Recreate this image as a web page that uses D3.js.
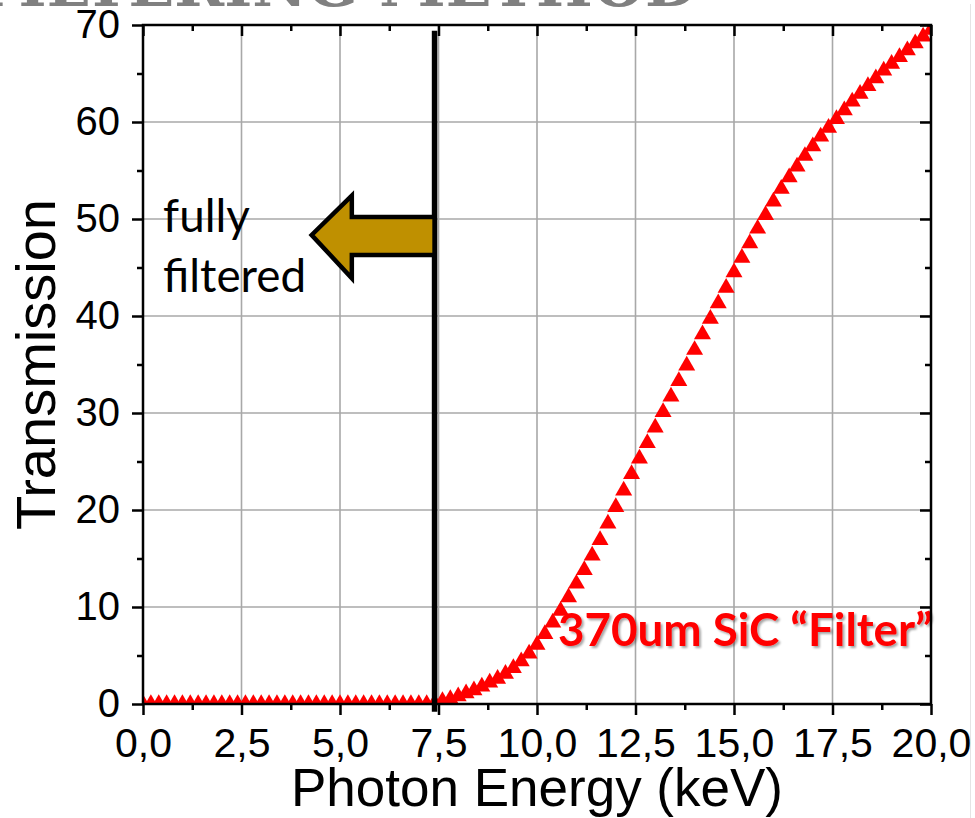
<!DOCTYPE html>
<html>
<head>
<meta charset="utf-8">
<script src="https://cdn.jsdelivr.net/npm/d3@7"></script>
<style>
  body { margin: 0; background: #fff; }
  svg { display: block; }
</style>
</head>
<body>
<svg></svg>
<script>
const WIDTH = 975;
const HEIGHT = 818;

// photon energy (keV) and transmission (%)
const energy = [
  0.0, 0.2, 0.4, 0.6, 0.8, 1.0, 1.2, 1.4, 1.6, 1.8,
  2.0, 2.2, 2.4, 2.6, 2.8, 3.0, 3.2, 3.4, 3.6, 3.8,
  4.0, 4.2, 4.4, 4.6, 4.8, 5.0, 5.2, 5.4, 5.6, 5.8,
  6.0, 6.2, 6.4, 6.6, 6.8, 7.0, 7.2, 7.4, 7.6, 7.8,
  8.0, 8.2, 8.4, 8.6, 8.8, 9.0, 9.2, 9.4, 9.6, 9.8,
  10.0, 10.2, 10.4, 10.6, 10.8, 11.0, 11.2, 11.4, 11.6, 11.8,
  12.0, 12.2, 12.4, 12.6, 12.8, 13.0, 13.2, 13.4, 13.6, 13.8,
  14.0, 14.2, 14.4, 14.6, 14.8, 15.0, 15.2, 15.4, 15.6, 15.8,
  16.0, 16.2, 16.4, 16.6, 16.8, 17.0, 17.2, 17.4, 17.6, 17.8,
  18.0, 18.2, 18.4, 18.6, 18.8, 19.0, 19.2, 19.4, 19.6, 19.8,
  20.0
];
const transmission = [
  0, 0, 0, 0, 0, 0, 0, 0, 0, 0,
  0, 0, 0, 0, 0, 0, 0, 0, 0, 0,
  0, 0, 0, 0, 0, 0, 0, 0, 0, 0,
  0, 0, 0, 0, 0, 0, 0, 0.1, 0.3, 0.5,
  0.8, 1.1, 1.4, 1.8, 2.2, 2.6, 3.1, 3.7, 4.4, 5.2,
  6.1, 7.2, 8.4, 9.6, 11.0, 12.4, 13.8, 15.3, 16.9, 18.6,
  20.3, 22.0, 23.7, 25.3, 26.9, 28.5, 30.1, 31.7, 33.3, 34.9,
  36.5, 38.1, 39.7, 41.3, 42.9, 44.5, 46.0, 47.5, 49.0, 50.4,
  51.8, 53.1, 54.3, 55.4, 56.5, 57.5, 58.5, 59.4, 60.3, 61.2,
  62.1, 62.9, 63.7, 64.5, 65.3, 66.0, 66.7, 67.4, 68.1, 68.8,
  69.5
];

const xTicks = [0, 2.5, 5, 7.5, 10, 12.5, 15, 17.5, 20];
const xMinorTicks = [1.25, 3.75, 6.25, 8.75, 11.25, 13.75, 16.25, 18.75];
const yTicks = [0, 10, 20, 30, 40, 50, 60, 70];
const yMinorTicks = [5, 15, 25, 35, 45, 55, 65];

const CUTOFF_ENERGY = 7.4;
const TITLE = "FILTERING METHOD";
const X_LABEL = "Photon Energy (keV)";
const Y_LABEL = "Transmission";
const SERIES_LABEL = "370um SiC \u201cFilter\u201d";
const NOTE_LINES = ["fully", "filtered"];

const AXIS_FONT = "'Liberation Sans', Arial, sans-serif";
const NOTE_FONT = "Lato, 'Open Sans', sans-serif";

const commaFormat = d3.formatLocale({
  decimal: ",", thousands: ".", grouping: [3], currency: ["", ""]
}).format(".1f");

let x, y;

function setUpScales() {
  x = d3.scaleLinear().domain([0, 20]).range([143, 931]);
  y = d3.scaleLinear().domain([0, 70]).range([704, 25]);
}

// scale a text's font size so the string covers a given width
function fitText(sel, target) {
  const len = sel.node().getComputedTextLength();
  const size = parseFloat(sel.attr("font-size"));
  const fitted = (size * target) / len;
  sel.attr("font-size", fitted);
  return fitted;
}

function drawGrid($svg) {
  const g = $svg.append("g").attr("stroke", "#a8a8a8").attr("stroke-width", 1.6);

  g.selectAll("line.v")
    .data(xTicks.slice(1, -1))
    .join("line")
    .attr("class", "v")
    .attr("x1", d => x(d)).attr("x2", d => x(d))
    .attr("y1", y(0)).attr("y2", y(70));

  g.selectAll("line.h")
    .data(yTicks.slice(1, -1))
    .join("line")
    .attr("class", "h")
    .attr("x1", x(0)).attr("x2", x(20))
    .attr("y1", d => y(d)).attr("y2", d => y(d));
}

function styleAxis(g) {
  g.select(".domain").remove();
  g.selectAll(".tick line").attr("stroke", "#000").attr("stroke-width", 2.5);
  g.selectAll(".tick text")
    .attr("fill", "#000")
    .attr("font-family", AXIS_FONT);
}

function setUpAxes($svg) {
  $svg.append("g")
    .attr("transform", `translate(0,${y(0)})`)
    .call(d3.axisBottom(x).tickValues(xTicks).tickFormat(commaFormat).tickSize(11).tickPadding(13))
    .call(styleAxis)
    .selectAll("text").attr("font-size", 41);

  $svg.append("g")
    .attr("transform", `translate(0,${y(0)})`)
    .call(d3.axisBottom(x).tickValues(xMinorTicks).tickFormat("").tickSize(6))
    .call(styleAxis);

  $svg.append("g")
    .attr("transform", `translate(${x(0)},0)`)
    .call(d3.axisLeft(y).tickValues(yTicks).tickFormat(d3.format("d")).tickSize(11).tickPadding(12))
    .call(styleAxis)
    .selectAll("text").attr("font-size", 40);

  $svg.append("g")
    .attr("transform", `translate(${x(0)},0)`)
    .call(d3.axisLeft(y).tickValues(yMinorTicks).tickFormat("").tickSize(6))
    .call(styleAxis);

  // mirrored ticks on top and right point inward
  $svg.append("g")
    .attr("transform", `translate(0,${y(70)})`)
    .call(d3.axisTop(x).tickValues(xTicks).tickFormat("").tickSize(-11))
    .call(styleAxis);
  $svg.append("g")
    .attr("transform", `translate(0,${y(70)})`)
    .call(d3.axisTop(x).tickValues(xMinorTicks).tickFormat("").tickSize(-6))
    .call(styleAxis);
  $svg.append("g")
    .attr("transform", `translate(${x(20)},0)`)
    .call(d3.axisRight(y).tickValues(yTicks).tickFormat("").tickSize(-11))
    .call(styleAxis);
  $svg.append("g")
    .attr("transform", `translate(${x(20)},0)`)
    .call(d3.axisRight(y).tickValues(yMinorTicks).tickFormat("").tickSize(-6))
    .call(styleAxis);

  $svg.append("rect")
    .attr("x", x(0)).attr("y", y(70))
    .attr("width", x(20) - x(0)).attr("height", y(0) - y(70))
    .attr("fill", "none").attr("stroke", "#000").attr("stroke-width", 2.5);

  $svg.append("text")
    .attr("x", x(10)).attr("y", 806)
    .attr("text-anchor", "middle")
    .attr("font-family", AXIS_FONT).attr("font-size", 53)
    .text(X_LABEL);

  $svg.append("text")
    .attr("transform", `translate(55,${y(35)}) rotate(-90)`)
    .attr("text-anchor", "middle")
    .attr("font-family", AXIS_FONT).attr("font-size", 56)
    .text(Y_LABEL);
}

function drawMarkers($svg, defs) {
  // symbols are clipped to the frame, as in the original plot
  defs.append("clipPath").attr("id", "plot-clip")
    .append("rect")
    .attr("x", x(0)).attr("y", y(70))
    .attr("width", x(20) - x(0)).attr("height", y(0) - y(70));

  const tri = d3.symbol(d3.symbolTriangle, 125);
  $svg.append("g")
    .attr("clip-path", "url(#plot-clip)")
    .selectAll("path")
    .data(energy.map((e, i) => [e, transmission[i]]))
    .join("path")
    .attr("transform", d => `translate(${x(d[0])},${y(d[1])})`)
    .attr("d", tri)
    .attr("fill", "#ff0000");
}

function drawAnnotations($svg, defs) {
  $svg.append("line")
    .attr("x1", x(CUTOFF_ENERGY)).attr("x2", x(CUTOFF_ENERGY))
    .attr("y1", y(-0.8)).attr("y2", y(69.4))
    .attr("stroke", "#000").attr("stroke-width", 5.5);

  // block arrow, in data units
  const arrow = [[4.28, 48.35], [5.3, 52.4], [5.3, 50.2], [CUTOFF_ENERGY, 50.2],
                 [CUTOFF_ENERGY, 46.3], [5.3, 46.3], [5.3, 43.9]];
  $svg.append("path")
    .attr("d", d3.line().x(d => x(d[0])).y(d => y(d[1]))(arrow) + "Z")
    .attr("fill", "#bf9000")
    .attr("stroke", "#000").attr("stroke-width", 4.5)
    .attr("stroke-linejoin", "miter");

  const noteBase = [48.66, 42.5];
  const notes = NOTE_LINES.map((t, i) => $svg.append("text")
    .attr("x", x(0.51)).attr("y", y(noteBase[i]))
    .attr("font-family", NOTE_FONT).attr("font-size", 40)
    .attr("fill", "#000")
    .text(t));
  const noteSize = fitText(notes[1], 143);
  notes[0].attr("font-size", noteSize);

  defs.append("filter").attr("id", "shadow")
    .attr("x", "-5%").attr("y", "-20%").attr("width", "115%").attr("height", "150%")
    .append("feDropShadow")
    .attr("dx", 2).attr("dy", 2).attr("stdDeviation", 1.2)
    .attr("flood-color", "#000").attr("flood-opacity", 0.35);

  const label = $svg.append("text")
    .attr("x", x(10.53)).attr("y", 646)
    .attr("font-family", NOTE_FONT).attr("font-weight", 700)
    .attr("font-size", 44).attr("fill", "#ff0000")
    .attr("filter", "url(#shadow)")
    .text(SERIES_LABEL);
  fitText(label, 375);
}

function drawFrameDecor($svg) {
  $svg.append("text")
    .attr("x", 697).attr("y", 6)
    .attr("text-anchor", "end")
    .attr("font-family", "'DejaVu Serif', serif")
    .attr("font-weight", 700)
    .attr("font-size", 60)
    .attr("fill", "#808080")
    .text(TITLE);

  $svg.append("line")
    .attr("x1", 970.5).attr("x2", 970.5)
    .attr("y1", 4).attr("y2", HEIGHT)
    .attr("stroke", "#e4e4e4").attr("stroke-width", 1);
}

const $svg = d3.select("svg").attr("width", WIDTH).attr("height", HEIGHT);
const defs = $svg.append("defs");

setUpScales();
drawFrameDecor($svg);
drawGrid($svg);
drawMarkers($svg, defs);
drawAnnotations($svg, defs);
setUpAxes($svg);
</script>
</body>
</html>
